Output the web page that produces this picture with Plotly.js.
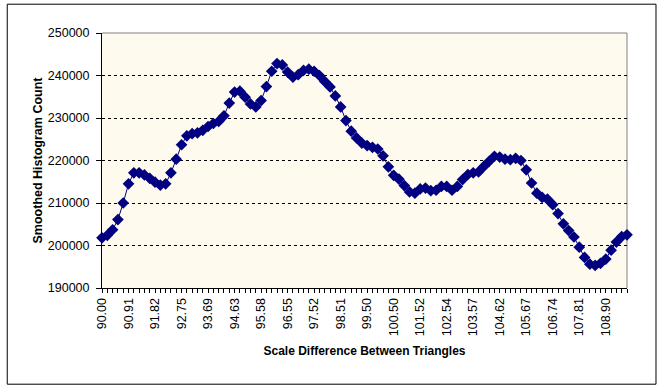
<!DOCTYPE html>
<html>
<head>
<meta charset="utf-8">
<script src="https://cdn.plot.ly/plotly-3.0.1.min.js"></script>
<style>html,body{margin:0;padding:0;background:#fff;}#chart{width:662px;height:391px;}</style>
</head>
<body>
<div id="chart"></div>
<script>
// Category tick labels (every 5th point)
const tickLabels = ['90.00','90.91','91.82','92.75','93.69','94.63','95.58','96.55','97.52','98.51',
  '99.50','100.50','101.52','102.54','103.57','104.62','105.67','106.74','107.81','108.90'];

// Smoothed histogram count, one value per category (100 points)
const counts = [
  201800,202400,203700,206100,210000,214500,217100,217100,216600,215800,
  214900,214200,214500,217100,220300,223700,225800,226300,226500,227100,
  228000,228700,229200,230500,233500,236100,236300,234900,233300,232600,
  234100,237400,241000,242800,242500,240800,239600,240200,241200,241500,
  241000,240000,238600,237300,235200,232600,229400,226900,225300,224100,
  223500,223100,222700,221100,218500,216500,215600,214100,212600,212300,
  213300,213500,212900,213000,213900,213900,213000,213900,215500,216700,
  217100,217300,218600,219800,221000,220800,220300,220200,220500,220000,
  217800,214700,212300,211300,210900,209600,207500,205100,203500,202000,
  199600,197200,195600,195300,195800,196800,198900,200800,202100,202500
];
const labelEvery = 5;

const xIdx = counts.map((_, i) => i);
const tickText = xIdx.map(i => (i % labelEvery === 0 && tickLabels[i / labelEvery] !== undefined) ? tickLabels[i / labelEvery] : '');

const W = 662, H = 391;
const L = 102.3, R = 627.5, T = 33.3, B = 288.3;
const px2x = p => (p - L) / (R - L);
const px2y = p => (B - p) / (B - T);

const trace = {
  x: xIdx,
  y: counts,
  type: 'scatter',
  mode: 'lines+markers',
  line: {color: '#000080', width: 1},
  marker: {symbol: 'diamond', size: 9, color: '#000080', line: {width: 0}},
  hoverinfo: 'skip',
  cliponaxis: false
};

const font = {family: '"Liberation Sans", Arial, sans-serif', color: '#000', size: 12.5};

const layout = {
  width: W, height: H,
  margin: {l: L, r: W - R, t: T, b: H - B, pad: 0},
  paper_bgcolor: '#ffffff',
  plot_bgcolor: '#FFFAEE',
  showlegend: false,
  font: font,
  xaxis: {
    range: [0, counts.length - 1],
    tickmode: 'array',
    tickvals: xIdx,
    ticktext: tickText,
    tickangle: -90,
    ticks: 'outside', ticklen: 4, tickwidth: 1, tickcolor: '#000',
    showline: true, linecolor: '#000', linewidth: 1,
    showgrid: false, zeroline: false,
    tickfont: font,
    title: {text: 'Scale Difference Between Triangles', font: {family: font.family, size: 12, color: '#000', weight: 'bold'}, standoff: 11}
  },
  yaxis: {
    range: [190000, 250000],
    dtick: 10000,
    tickformat: 'd',
    ticks: 'outside', ticklen: 5, tickwidth: 1, tickcolor: '#000',
    showline: true, linecolor: '#000', linewidth: 1,
    showgrid: true, gridcolor: '#000', gridwidth: 1, griddash: '3px,3px',
    zeroline: false,
    tickfont: font,
    ticklabelstandoff: 4,
    title: {text: 'Smoothed Histogram Count', font: {family: font.family, size: 12.5, color: '#000', weight: 'bold'}, standoff: 2}
  },
  shapes: [
    {type: 'line', xref: 'paper', yref: 'paper', x0: 0, x1: 1, y0: 1, y1: 1, line: {color: '#808080', width: 1}, layer: 'above'},
    {type: 'line', xref: 'paper', yref: 'paper', x0: 1, x1: 1, y0: 0, y1: 1, line: {color: '#808080', width: 1}, layer: 'below'},
    {type: 'rect', xref: 'paper', yref: 'paper', x0: px2x(7.5), x1: px2x(656.5), y0: px2y(384.5), y1: px2y(4.5), line: {color: '#000', width: 1}, fillcolor: 'rgba(0,0,0,0)', layer: 'above'}
  ]
};

Plotly.newPlot('chart', [trace], layout, {staticPlot: true, displayModeBar: false});
</script>
</body>
</html>
